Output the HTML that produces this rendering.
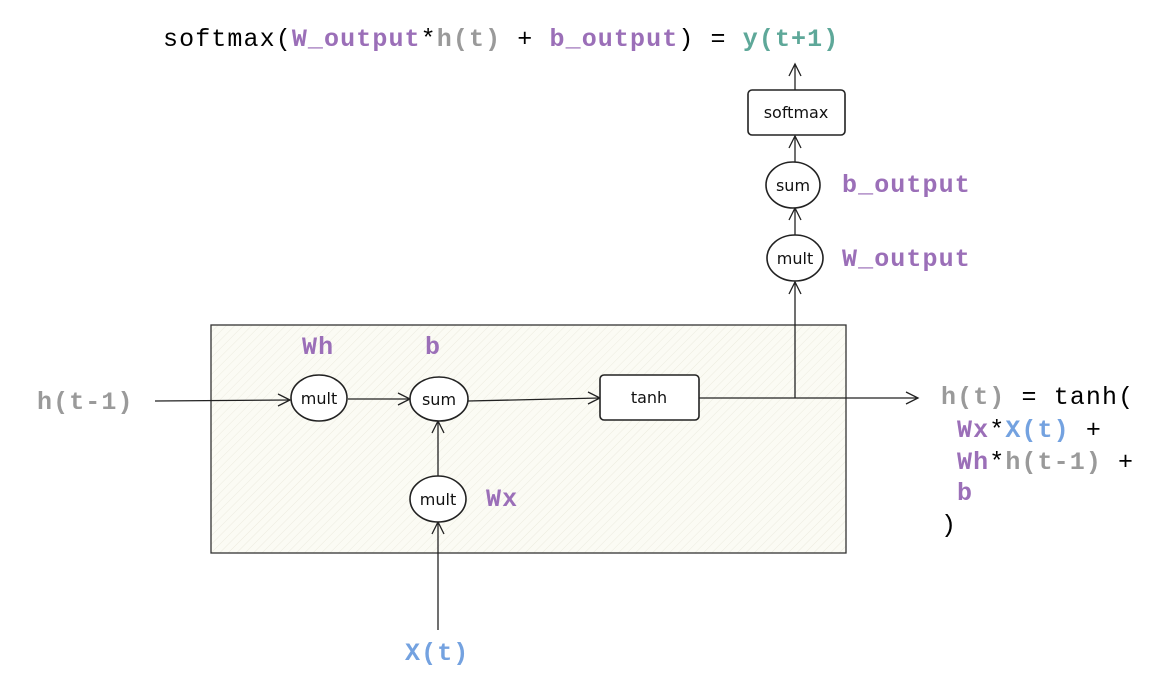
<!DOCTYPE html>
<html><head><meta charset="utf-8"><style>
html,body{margin:0;padding:0;background:#fff;}
svg{display:block;}
.m{font-family:"Liberation Mono",monospace;font-size:25px;letter-spacing:1.1px;}
.p{fill:#9b6fb8;font-weight:bold;}
.g{fill:#9a9a9a;font-weight:bold;}
.bl{fill:#74a2e0;font-weight:bold;}
.t{fill:#5ea899;font-weight:bold;}
.n{font-family:"DejaVu Sans","Liberation Sans",sans-serif;font-size:16px;fill:#111;}
</style></head><body>
<svg width="1170" height="686" viewBox="0 0 1170 686" xmlns="http://www.w3.org/2000/svg">
<defs>
<pattern id="h" width="6" height="6" patternUnits="userSpaceOnUse" patternTransform="rotate(45)">
<rect width="6" height="6" fill="#fbfbf4"/><line x1="0" y1="0" x2="0" y2="6" stroke="#ecebdf" stroke-width="1"/>
</pattern>
</defs>
<g fill="none" stroke="#222" stroke-width="1.3">
<rect x="211" y="325" width="635" height="228" fill="url(#h)" stroke="#333"/>
<line x1="155" y1="401" x2="290" y2="400"/><path d="M278 394 L290 400 L278 406"/>
<line x1="348" y1="399" x2="410" y2="399"/><path d="M398 393 L410 399 L398 405"/>
<line x1="468" y1="401" x2="600" y2="398"/><path d="M588 392 L600 398 L588 404"/>
<line x1="699" y1="398" x2="918" y2="398"/><path d="M906 392 L918 398 L906 404"/>
<line x1="438" y1="477" x2="438" y2="421"/><path d="M432 433 L438 421 L444 433"/>
<line x1="438" y1="630" x2="438" y2="522"/><path d="M432 534 L438 522 L444 534"/>
<line x1="795" y1="398" x2="795" y2="282"/><path d="M789 294 L795 282 L801 294"/>
<line x1="795" y1="235" x2="795" y2="208"/><path d="M789 220 L795 208 L801 220"/>
<line x1="795" y1="162" x2="795" y2="136"/><path d="M789 148 L795 136 L801 148"/>
<line x1="795" y1="90" x2="795" y2="64"/><path d="M789 76 L795 64 L801 76"/>
<ellipse cx="319" cy="398" rx="28" ry="23" fill="#fff" stroke-width="1.6"/>
<ellipse cx="439" cy="399" rx="29" ry="22" fill="#fff" stroke-width="1.6"/>
<ellipse cx="438" cy="499" rx="28" ry="23" fill="#fff" stroke-width="1.6"/>
<rect x="600" y="375" width="99" height="45" rx="4" fill="#fff" stroke-width="1.6"/>
<ellipse cx="795" cy="258" rx="28" ry="23" fill="#fff" stroke-width="1.6"/>
<ellipse cx="793" cy="185" rx="27" ry="23" fill="#fff" stroke-width="1.6"/>
<rect x="748" y="90" width="97" height="45" rx="4" fill="#fff" stroke-width="1.6"/>
</g>
<text class="n" x="319" y="404" text-anchor="middle">mult</text>
<text class="n" x="439" y="405" text-anchor="middle">sum</text>
<text class="n" x="438" y="505" text-anchor="middle">mult</text>
<text class="n" x="649" y="403" text-anchor="middle">tanh</text>
<text class="n" x="795" y="264" text-anchor="middle">mult</text>
<text class="n" x="793" y="191" text-anchor="middle">sum</text>
<text class="n" x="796" y="118" text-anchor="middle">softmax</text>

<text class="m" x="163" y="46"><tspan>softmax(</tspan><tspan class="p">W_output</tspan><tspan>*</tspan><tspan class="g">h(t)</tspan><tspan> + </tspan><tspan class="p">b_output</tspan><tspan>) = </tspan><tspan class="t">y(t+1)</tspan></text>
<text class="m p" x="842" y="192">b_output</text>
<text class="m p" x="842" y="266">W_output</text>
<text class="m p" x="302" y="354">Wh</text>
<text class="m p" x="425" y="354">b</text>
<text class="m p" x="486" y="506">Wx</text>
<text class="m g" x="37" y="409">h(t-1)</text>
<text class="m bl" x="405" y="660">X(t)</text>
<text class="m" x="941" y="404"><tspan class="g">h(t)</tspan><tspan> = tanh(</tspan></text>
<text class="m" x="957" y="437"><tspan class="p">Wx</tspan><tspan>*</tspan><tspan class="bl">X(t)</tspan><tspan> +</tspan></text>
<text class="m" x="957" y="469"><tspan class="p">Wh</tspan><tspan>*</tspan><tspan class="g">h(t-1)</tspan><tspan> +</tspan></text>
<text class="m p" x="957" y="500">b</text>
<text class="m" x="941" y="532">)</text>
</svg>
</body></html>
